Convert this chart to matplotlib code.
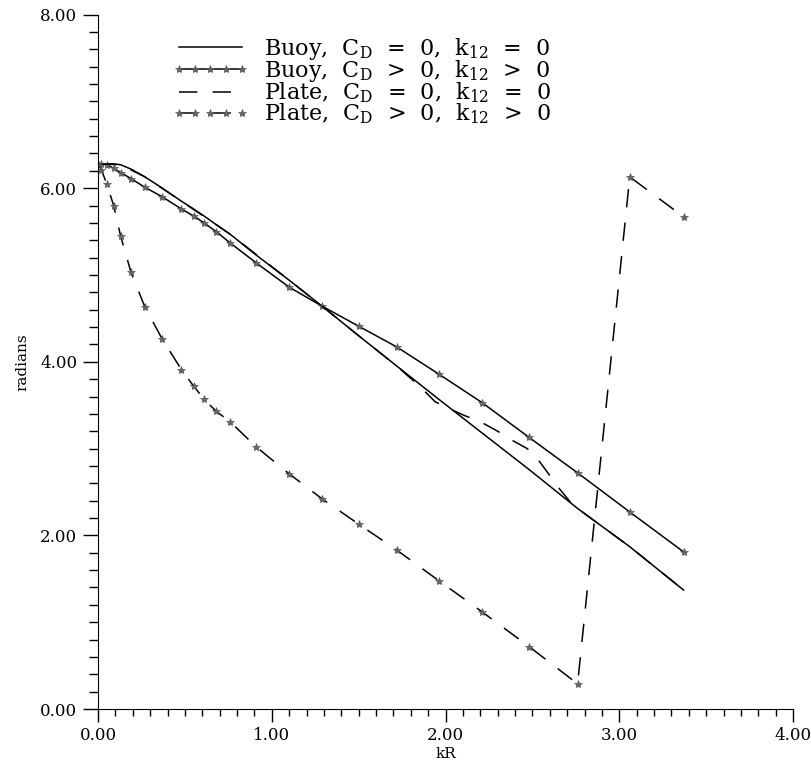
import matplotlib
matplotlib.use("Agg")
import matplotlib.pyplot as plt
from matplotlib.ticker import MultipleLocator, FormatStrFormatter

plt.rcParams['font.family'] = ['DejaVu Serif']
plt.rcParams['mathtext.fontset'] = 'dejavuserif'

# kR grid shared by the C_D > 0 runs
kr = [0.0, 0.02, 0.05, 0.09, 0.13, 0.19, 0.27, 0.37, 0.48, 0.55, 0.61, 0.68,
      0.76, 0.91, 1.10, 1.29, 1.50, 1.72, 1.96, 2.21, 2.48, 2.76, 3.06, 3.37]

# Buoy, C_D = 0, k12 = 0 (solid)
buoy_0 = [6.28, 6.28, 6.28, 6.28, 6.27, 6.22, 6.13, 6.00, 5.85, 5.76, 5.68, 5.58,
          5.47, 5.23, 4.94, 4.64, 4.30, 3.95, 3.57, 3.18, 2.76, 2.31, 1.87, 1.37]

# Buoy, C_D > 0, k12 > 0 (solid + stars)
buoy_d = [6.28, 6.28, 6.27, 6.23, 6.18, 6.11, 6.01, 5.90, 5.76, 5.68, 5.60, 5.50,
          5.37, 5.14, 4.86, 4.64, 4.41, 4.17, 3.86, 3.53, 3.13, 2.72, 2.27, 1.81]

# Plate, C_D > 0, k12 > 0 (dashed + stars)
plate_d = [6.28, 6.21, 6.05, 5.80, 5.45, 5.03, 4.63, 4.26, 3.91, 3.72, 3.57, 3.43,
           3.31, 3.02, 2.71, 2.42, 2.13, 1.83, 1.48, 1.12, 0.72, 0.29, 6.13, 5.67]

# Plate, C_D = 0, k12 = 0 (dashed)
kr_p0 = [0.0, 0.13, 0.27, 0.48, 0.76, 1.10, 1.29, 1.50, 1.72, 1.81, 1.88, 1.94,
         2.01, 2.11, 2.20, 2.30, 2.37, 2.47, 2.53, 2.60, 2.65, 2.72, 2.76, 3.06, 3.37]
plate_0 = [6.28, 6.27, 6.13, 5.85, 5.47, 4.94, 4.64, 4.30, 3.95, 3.79, 3.66, 3.54,
           3.47, 3.38, 3.31, 3.20, 3.11, 3.00, 2.88, 2.69, 2.55, 2.38, 2.31, 1.87, 1.37]

labels = [r"Buoy,  C$_\mathrm{D}$  =  0,  k$_{12}$  =  0",
          r"Buoy,  C$_\mathrm{D}$  >  0,  k$_{12}$  >  0",
          r"Plate,  C$_\mathrm{D}$  =  0,  k$_{12}$  =  0",
          r"Plate,  C$_\mathrm{D}$  >  0,  k$_{12}$  >  0"]

fig = plt.figure(figsize=(8.12, 7.66), dpi=100)
ax = fig.add_axes([0.1207, 0.0744, 0.856, 0.9066])

star = dict(marker='*', markersize=6, markerfacecolor='#666666',
            markeredgecolor='#555555', markeredgewidth=0.5)

ax.plot(kr, buoy_0, color='black', lw=1.1, label=labels[0])
ax.plot(kr, buoy_d, color='black', lw=1.1, label=labels[1], **star)
ax.plot(kr_p0, plate_0, color='black', lw=1.1, dashes=(12, 10), label=labels[2])
ax.plot(kr, plate_d, color='black', lw=1.1, dashes=(12, 10), label=labels[3], **star)

ax.set_xlim(0, 4)
ax.set_ylim(0, 8)
ax.xaxis.set_major_locator(MultipleLocator(1))
ax.xaxis.set_minor_locator(MultipleLocator(0.1))
ax.yaxis.set_major_locator(MultipleLocator(2))
ax.yaxis.set_minor_locator(MultipleLocator(0.2))
ax.xaxis.set_major_formatter(FormatStrFormatter('%.2f'))
ax.yaxis.set_major_formatter(FormatStrFormatter('%.2f'))

ax.spines['top'].set_visible(False)
ax.spines['right'].set_visible(False)
ax.tick_params(axis='x', which='major', length=9, width=1, labelsize=12, pad=4)
ax.tick_params(axis='x', which='minor', length=5, width=1)
ax.tick_params(axis='y', which='major', length=11, width=1, labelsize=12, pad=4)
ax.tick_params(axis='y', which='minor', length=6.5, width=1)

ax.set_xlabel('kR', fontsize=11, labelpad=2)
ax.set_ylabel('radians', fontsize=11, labelpad=8)

ax.legend(loc='upper left', bbox_to_anchor=(0.077, 1.0), frameon=False,
          fontsize=16, handlelength=3.4, handletextpad=0.7, labelspacing=-0.16,
          numpoints=5, borderaxespad=0.55)

fig.savefig('out.png', dpi=100)
